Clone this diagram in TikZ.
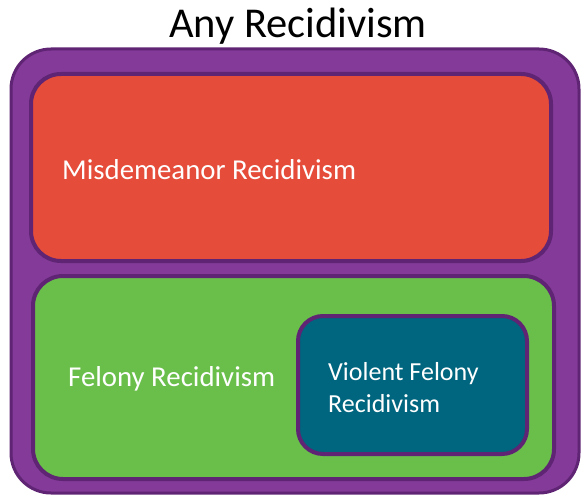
\documentclass[tikz,border=0pt]{standalone}
\usepackage{fontspec}
\setmainfont{Carlito}
\usepackage{xcolor}
\usepackage{tikz}
\usetikzlibrary{positioning}
\definecolor{outerpurple}{HTML}{833A98}
\definecolor{edgepurple}{HTML}{5F2473}
\definecolor{misdred}{HTML}{E64C3A}
\definecolor{felgreen}{HTML}{6ABF4B}
\definecolor{violteal}{HTML}{00657E}

\begin{document}
\begin{tikzpicture}[x=1pt, y=-1pt, box/.style ={rectangle, rounded corners=30pt, draw=edgepurple, line width=4pt, inner sep=0pt}, lbl/.style={anchor=west, text=white, font=\fontsize{28.8}{32}\selectfont, align=left, inner sep=0pt}]
	\useasboundingbox (0,0) rectangle (581,495);
	\node[box, fill=outerpurple, line width=3pt, rounded corners=40pt, minimum width=568pt, minimum height=444pt] (any) at (295,271) {};
	\node[font=\fontsize{42.5}{48}\selectfont] (title) at (298,26) {Any Recidivism};
	\node[box, fill=misdred, minimum width=520pt, minimum height=187pt] (misd) at (291,167.5) {};
	\node[box, fill=felgreen, minimum width=521pt, minimum height=203pt] (fel) at (293.5,377.5) {};
	\node[box, fill=violteal, rounded corners=25pt, minimum width=229pt, minimum height=138pt] (viol) at (412.5,385) {};
	\node[lbl] (misdtxt) at (62,170) {Misdemeanor Recidivism};
	\node[lbl] (feltxt) at (68,379) {Felony Recidivism};
	\node[lbl, font=\fontsize{26}{32}\selectfont] (violtxt) at (328,388) {Violent Felony\\Recidivism};
\end{tikzpicture}
\end{document}
